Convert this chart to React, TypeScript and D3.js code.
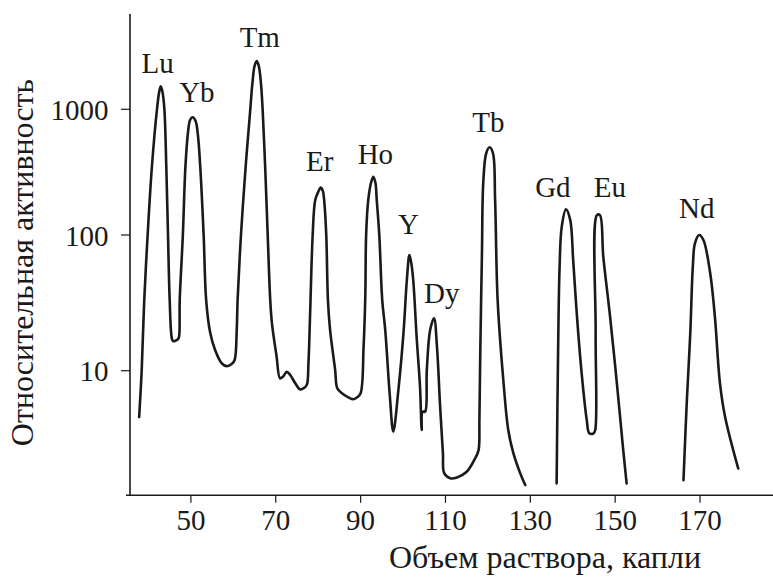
import React, { useEffect, useState } from "react";
import * as d3 from "d3";

// Elution curve (drops of eluent, relative activity)
const segLuToTb: [number, number][] = [
  [37.8, 4.4], [38.4, 10.1], [39.0, 33], [39.8, 100], [40.8, 347], [42.0, 1000], [42.6, 1420], [42.9, 1520],
  [43.3, 1372], [43.75, 1000], [44.2, 347], [44.6, 100], [45.0, 33], [45.5, 17.3], [45.8, 16.5], [46.3, 16.6],
  [46.9, 17.0], [47.2, 17.8], [47.36, 33], [48.1, 100], [48.7, 347], [49.3, 648], [49.8, 822], [50.4, 864],
  [51.1, 807], [51.6, 648], [52.2, 349], [53.0, 100], [53.6, 33], [54.5, 19.4], [55.7, 14.2], [57.3, 11.3],
  [58.5, 10.8], [59.6, 11.2], [60.3, 12.0], [60.8, 20.0], [61.0, 33], [61.8, 100], [62.9, 349], [64.0, 1005],
  [64.5, 1618], [65.0, 2206], [65.5, 2417], [66.0, 2206], [66.5, 1618], [66.9, 1005], [67.5, 349], [68.1, 100],
  [68.7, 33], [69.1, 22.3], [70.2, 12.7], [71.0, 8.74], [71.7, 9.0], [72.6, 9.8], [73.4, 9.27], [74.6, 8.0],
  [75.7, 7.19], [76.5, 7.32], [77.3, 7.76], [77.7, 11.3], [78.1, 26.5], [78.7, 100], [79.3, 190], [80.0, 220],
  [80.6, 238], [81.1, 224], [81.4, 190], [81.9, 100], [82.3, 33], [82.8, 20], [84.0, 10.1], [84.5, 7.32],
  [85.6, 6.7], [87.1, 6.24], [88.3, 6.03], [89.2, 6.24], [90.0, 6.7], [90.7, 15.0], [91.1, 35.1], [91.3, 100],
  [91.8, 190], [92.5, 264], [93.0, 291], [93.5, 259], [93.8, 190], [94.4, 100], [95.1, 33], [95.8, 20],
  [96.9, 6.31], [97.7, 3.4], [98.9, 7.1], [100.1, 18.9], [100.9, 46.6], [101.5, 71.2], [101.9, 63.2], [102.4, 46.6],
  [103.2, 17.8], [104.0, 7.53], [104.4, 3.5], [104.6, 4.84], [105.2, 4.84], [105.6, 10.1], [106.4, 20], [107.3, 24.3],
  [108.0, 15.0], [108.7, 5.61], [109.4, 2.32], [109.7, 1.63], [111.1, 1.49], [112.7, 1.51], [115.0, 1.67], [117.0, 2.12],
  [117.8, 2.45], [118.0, 4.18], [118.2, 13.5], [118.6, 73.7], [118.9, 258], [119.6, 447], [120.4, 499], [121.2, 447],
  [121.7, 190], [122.3, 33], [123.7, 8.0], [124.8, 3.5], [126.0, 2.32], [127.6, 1.63], [128.8, 1.32],
];
const segGdEu: [number, number][] = [
  [136.2, 1.36], [136.5, 10.7], [136.9, 58.4], [137.4, 116], [138.4, 160], [139.4, 132], [140.1, 65.4], [141.0, 25.0],
  [142.1, 9.55], [143.3, 4.18], [143.9, 3.3], [144.9, 3.3], [145.3, 3.5], [145.4, 18.9], [145.7, 144], [146.4, 144],
  [147.2, 69.2], [148.8, 25.0], [150.4, 8.0], [151.9, 2.45], [152.7, 1.36],
];
const segNd: [number, number][] = [
  [166.1, 1.44], [166.9, 5.95], [167.7, 18.9], [168.3, 58.4], [168.8, 86.9], [169.8, 100], [170.8, 91.9],
  [172.4, 52.2], [173.5, 25.0], [174.7, 8.0], [175.9, 4.43], [179.0, 1.77],
];

// Peak labels: element, drops, activity (anchor of label baseline)
const peakNames = ["Lu", "Yb", "Tm", "Er", "Ho", "Y", "Dy", "Tb", "Gd", "Eu", "Nd"];
const peakLabelX = [42.15, 51.4, 66.24, 80.38, 93.48, 101.26, 109.13, 120.11, 135.32, 148.73, 169.23];
const peakLabelY = [1950, 1149, 3140, 325, 367, 102, 31.4, 663, 202, 202, 136];

const xTicks = [50, 70, 90, 110, 130, 150, 170];
const yTicks = [10, 100, 1000];
const xTitle = "Объем раствора, капли";
const yTitle = "Относительная активность";

const X_MIN = 34.7;
const X_MAX = 187.2;
const Y_MIN = 1.1;
const Y_MAX = 5700;

export default function App() {
  const W = 773;
  const H = 585;
  const ink = "#1a1a1a";
  const [gen, setGen] = useState(0);

  useEffect(() => {
    const t1 = setTimeout(() => setGen(1), 30);
    const fontsApi = (document as any).fonts;
    if (fontsApi && fontsApi.ready) {
      fontsApi.ready.then(() => setGen((g) => g + 10));
    }
    return () => clearTimeout(t1);
  }, []);

  const x = d3.scaleLinear().domain([X_MIN, X_MAX]).range([126, 773]);
  const y = d3
    .scaleLog()
    .domain([1, 10, 100, 1000, 10000])
    .range([500.7, 370.7, 235, 109.3, -16.7]);

  const line = d3
    .line<[number, number]>()
    .x((d) => x(d[0]))
    .y((d) => y(d[1]))
    .curve(d3.curveCatmullRom.alpha(0.5));

  const axisX = 130;
  const axisY = y(Y_MIN);
  const small = { fontFamily: "Liberation Serif", fontSize: 29 };
  const big = { fontFamily: "Liberation Serif", fontSize: 32 };

  return (
    <svg
      width={W}
      height={H}
      style={{ position: "absolute", left: 0, top: 0, display: "block", background: "#fff" }}
    >
      <rect x={0} y={0} width={W} height={H} fill="#fff" />
      {/* axes */}
      <line x1={axisX} x2={axisX} y1={y(Y_MAX)} y2={axisY} stroke={ink} strokeWidth={1.6} />
      <line x1={x(X_MIN)} x2={x(X_MAX)} y1={axisY} y2={axisY} stroke={ink} strokeWidth={1.6} />
      {yTicks.map((t) => (
        <line key={"yt" + t} x1={axisX - 9} x2={axisX} y1={y(t)} y2={y(t)} stroke={ink} strokeWidth={1.2} />
      ))}
      {xTicks.map((t) => (
        <line key={"xt" + t} x1={x(t)} x2={x(t)} y1={axisY} y2={axisY + 7.5} stroke={ink} strokeWidth={1.2} />
      ))}
      {/* curve */}
      {[segLuToTb, segGdEu, segNd].map((seg, i) => (
        <path
          key={"seg" + i}
          d={line(seg) || ""}
          fill="none"
          stroke={ink}
          strokeWidth={2.6}
          strokeLinejoin="round"
          strokeLinecap="round"
        />
      ))}
      <g key={"texts" + gen} fill={ink}>
        {yTicks.map((t) => (
          <text key={"yl" + t} x={108.5} y={y(t) + 10.5} textAnchor="end" style={small}>
            {String(t)}
          </text>
        ))}
        {xTicks.map((t) => (
          <text key={"xl" + t} x={x(t)} y={530} textAnchor="middle" style={small}>
            {String(t)}
          </text>
        ))}
        <text x={545} y={568} textAnchor="middle" style={big}>
          {xTitle}
        </text>
        <text transform={`translate(33,262.5) rotate(-90)`} textAnchor="middle" style={big}>
          {yTitle}
        </text>
        {peakNames.map((n, i) => (
          <text key={n} x={x(peakLabelX[i])} y={y(peakLabelY[i])} textAnchor="middle" style={small}>
            {n}
          </text>
        ))}
      </g>
    </svg>
  );
}
